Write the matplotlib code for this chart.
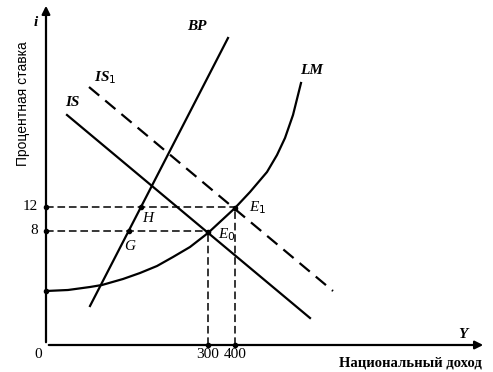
import matplotlib.pyplot as plt

# schematic units: x / y measured from the origin of the axes
bp_x = [44, 182]
bp_y = [39, 307]

is_x = [21, 264]
is_y = [230, 27]

is1_x = [43, 287]
is1_y = [258, 54]

lm_x = [0, 22, 44, 56, 77, 94, 111, 127, 144, 162, 189, 204, 221, 231, 239, 247, 255]
lm_y = [54, 55, 58, 60, 66, 72, 79, 88, 98, 112, 137, 153, 173, 190, 207, 230, 262]

# equilibrium points E0, E1 and BP crossings G, H
e0 = (162, 113)
e1 = (189, 137)
g_pt = (83, 114)
h_pt = (95, 138)

x_ticks = [162, 189]
x_tick_labels = ['300', '400']
y_ticks = [114, 138]
y_tick_labels = ['8', '12']

fig = plt.figure(figsize=(4.93, 3.72), dpi=100)
ax = fig.add_axes([0, 0, 1, 1])
ax.set_xlim(-46, 447)
ax.set_ylim(-27, 345)
ax.axis('off')

serif = 'Liberation Serif'

# axes with arrows
ax.annotate('', xy=(440, 0), xytext=(0, 0),
            arrowprops=dict(arrowstyle='-|>', lw=1.6, color='black', mutation_scale=12))
ax.annotate('', xy=(0, 342), xytext=(0, 0),
            arrowprops=dict(arrowstyle='-|>', lw=1.6, color='black', mutation_scale=12))

# curves
ax.plot(bp_x, bp_y, color='black', lw=1.6)
ax.plot(is_x, is_y, color='black', lw=1.6)
ax.plot(is1_x, is1_y, color='black', lw=1.6, dashes=(6, 3.5))
ax.plot(lm_x, lm_y, color='black', lw=1.6, solid_joinstyle='round')

# guide lines
ax.plot([0, e1[0]], [y_ticks[1], y_ticks[1]], color='black', lw=1.1, dashes=(5, 2.5))
ax.plot([0, e0[0]], [y_ticks[0], y_ticks[0]], color='black', lw=1.1, dashes=(5, 2.5))
ax.plot([x_ticks[0], x_ticks[0]], [0, e0[1]], color='black', lw=1.1, dashes=(5, 2.5))
ax.plot([x_ticks[1], x_ticks[1]], [0, e1[1]], color='black', lw=1.1, dashes=(5, 2.5))

# dots
ax.plot([0, 0, 0, x_ticks[0], x_ticks[1], e0[0], e1[0], g_pt[0], h_pt[0]],
        [lm_y[0], y_ticks[0], y_ticks[1], 0, 0, e0[1], e1[1], g_pt[1], h_pt[1]],
        'o', color='black', ms=3)

# tick labels
for xv, lab in zip(x_ticks, x_tick_labels):
    ax.text(xv, -10, lab, ha='center', va='center', fontsize=11, family=serif)
for yv, lab in zip(y_ticks, y_tick_labels):
    ax.text(-8, yv, lab, ha='right', va='center', fontsize=11, family=serif)
ax.text(-8, -10, '0', ha='center', va='center', fontsize=11, family=serif)

# curve labels
lab_kw = dict(fontsize=11, family=serif, style='italic', weight='bold', ha='center', va='center')
ax.text(151, 319, 'BP', **lab_kw)
ax.text(266, 275, 'LM', **lab_kw)
ax.text(26, 242, 'IS', **lab_kw)
ax.text(59, 267, 'IS$_1$', **lab_kw)

pt_kw = dict(fontsize=11, family=serif, style='italic', ha='center', va='center')
ax.text(212, 137, 'E$_1$', **pt_kw)
ax.text(181, 110, 'E$_0$', **pt_kw)
ax.text(102, 127, 'H', **pt_kw)
ax.text(84, 98, 'G', **pt_kw)

# axis titles
ax.text(-10, 323, 'i', fontsize=11, family=serif, style='italic', weight='bold',
        ha='center', va='center')
ax.text(417, 10, 'Y', fontsize=11, family=serif, style='italic', weight='bold',
        ha='center', va='center')
ax.text(-23, 241, 'Процентная ставка', rotation=90, fontsize=10,
        family='Liberation Sans', ha='center', va='center')
ax.text(364, -18, 'Национальный доход', fontsize=10.5, family=serif,
        weight='bold', ha='center', va='center')

fig.savefig('out.png', dpi=100)
